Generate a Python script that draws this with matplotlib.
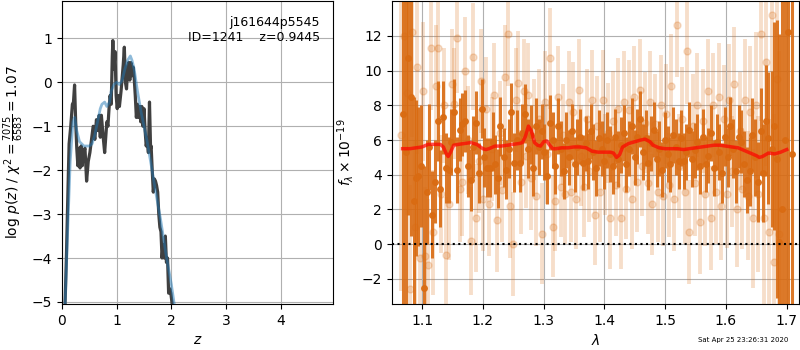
import numpy as np
import matplotlib
matplotlib.use('Agg')
import matplotlib.pyplot as plt

# p(z) 曲线
z_pz = [0.05, 0.08, 0.11, 0.13, 0.16, 0.19, 0.21, 0.23, 0.25, 0.27, 0.29, 0.31, 0.33, 0.35,
        0.37, 0.39, 0.42, 0.45, 0.48, 0.51, 0.54, 0.57, 0.60, 0.63, 0.66, 0.68, 0.70, 0.72,
        0.75, 0.78, 0.80, 0.82, 0.84, 0.86, 0.88, 0.90, 0.92, 0.93, 0.95, 0.97, 0.99, 1.01,
        1.03, 1.05, 1.08, 1.10, 1.12, 1.14, 1.16, 1.18, 1.20, 1.22, 1.24, 1.26, 1.28, 1.30,
        1.32, 1.34, 1.36, 1.38, 1.40, 1.42, 1.44, 1.46, 1.48, 1.50, 1.52, 1.54, 1.56, 1.58,
        1.60, 1.62, 1.63, 1.65, 1.67, 1.69, 1.71, 1.73, 1.75, 1.77, 1.79, 1.81, 1.83, 1.85,
        1.87, 1.89, 1.91, 1.93, 1.95, 1.97, 1.99, 2.01, 2.03, 2.06]
lnp = [-5.3, -4.0, -2.4, -1.4, -1.0, -0.5, -0.45, -0.06, -0.9, -1.5, -1.9, -1.5, -1.95, -1.45,
       -1.9, -1.6, -1.5, -2.25, -1.8, -1.6, -1.3, -1.0, -1.3, -0.85, -1.1, -0.75, -1.25, -0.75,
       -1.2, -1.6, -1.25, -0.9, -1.0, -0.6, -0.3, -0.5, 0.6, 0.95, 0.3, 0.7, -0.3, -0.6,
       -0.3, -0.55, -0.2, 0.1, 0.4, 0.8, 0.0, -0.15, 0.3, 0.45, 0.05, 0.45, 0.15, 0.35,
       0.1, -0.3, -0.8, -0.5, -0.8, -0.55, -0.9, -0.55, -1.0, -0.6, -1.1, -1.45, -1.3, -1.6,
       -0.45, -1.5, -1.45, -2.0, -2.5, -2.2, -2.25, -2.35, -2.5, -3.0, -3.3, -3.4, -4.0, -3.7,
       -4.0, -3.5, -4.1, -4.0, -4.8, -4.7, -4.8, -5.0, -5.3, -5.5]

z_sm = [0.05, 0.10, 0.15, 0.20, 0.23, 0.27, 0.32, 0.40, 0.50, 0.55, 0.60, 0.65, 0.70, 0.73,
        0.78, 0.82, 0.87, 0.90, 0.95, 1.00, 1.05, 1.10, 1.15, 1.20, 1.25, 1.28, 1.32, 1.38,
        1.45, 1.55, 1.62, 1.70, 1.80, 1.90, 2.00, 2.07]
lnp_sm = [-5.3, -3.5, -1.8, -0.9, -0.8, -1.1, -1.35, -1.45, -1.45, -1.4, -1.2, -0.9, -0.6, -0.5,
          -0.45, -0.55, -0.45, -0.2, -0.05, 0.0, -0.05, 0.05, 0.3, 0.5, 0.6, 0.5, 0.3, -0.2,
          -0.7, -1.3, -1.8, -2.4, -3.1, -3.9, -4.6, -5.2]

# 光谱 (深色)
lam_a = [1.068, 1.073, 1.077, 1.082, 1.086, 1.090, 1.094, 1.099, 1.104, 1.108, 1.112, 1.117,
         1.121, 1.126, 1.130, 1.135, 1.139, 1.144, 1.148, 1.153, 1.157, 1.162, 1.166, 1.171,
         1.175, 1.180, 1.184, 1.189, 1.193, 1.198, 1.202, 1.207, 1.211, 1.216, 1.220, 1.225,
         1.229, 1.234, 1.238, 1.243, 1.247, 1.252, 1.256, 1.261, 1.265, 1.270, 1.274, 1.279,
         1.283, 1.288, 1.292, 1.297, 1.301, 1.306, 1.310, 1.315, 1.319, 1.324, 1.328, 1.333,
         1.337, 1.342, 1.346, 1.351, 1.355, 1.360, 1.364, 1.369, 1.373, 1.378, 1.382, 1.387,
         1.391, 1.396, 1.400, 1.405, 1.409, 1.414, 1.418, 1.423, 1.427, 1.432, 1.436, 1.441,
         1.445, 1.450, 1.454, 1.459, 1.463, 1.468, 1.472, 1.477, 1.481, 1.486, 1.490, 1.495,
         1.499, 1.504, 1.508, 1.513, 1.517, 1.522, 1.526, 1.531, 1.535, 1.540, 1.544, 1.549,
         1.553, 1.558, 1.562, 1.567, 1.571, 1.576, 1.580, 1.585, 1.589, 1.594, 1.598, 1.603,
         1.607, 1.612, 1.616, 1.621, 1.625, 1.630, 1.634, 1.639, 1.643, 1.648, 1.652, 1.657,
         1.661, 1.666, 1.670, 1.675, 1.679, 1.684, 1.688, 1.693, 1.697, 1.702, 1.708]
flx_a = [7.5, 5.3, 10.7, 8.5, 2.5, 3.8, 3.9, 4.5, -2.5, 3.0, 5.6, 1.7,
         3.6, 7.1, 3.2, 7.3, 4.4, 4.3, 5.9, 7.6, 4.3, 6.6, 6.9, 7.1,
         4.5, 3.7, 5.6, 7.0, 4.1, 7.8, 5.0, 4.4, 4.4, 5.9, 4.6, 3.8,
         6.8, 5.0, 4.3, 5.5, 7.6, 4.7, 6.0, 4.7, 6.4, 7.5, 5.5, 6.3,
         4.4, 6.8, 5.6, 6.5, 5.3, 3.9, 7.0, 6.0, 4.5, 6.8, 5.5, 4.2,
         6.0, 5.0, 6.5, 4.6, 5.6, 6.2, 4.7, 5.8, 4.8, 6.5, 5.3, 4.4,
         6.1, 5.5, 4.8, 6.0, 5.2, 4.5, 6.2, 4.9, 5.7, 6.4, 4.6, 5.5,
         6.8, 5.0, 6.2, 7.2, 5.3, 6.1, 4.7, 5.8, 6.6, 4.9, 5.5, 4.3,
         6.0, 5.2, 4.6, 6.3, 5.6, 4.8, 6.1, 4.8, 5.3, 6.6, 4.9, 5.4,
         5.9, 4.5, 6.2, 4.6, 5.1, 6.4, 4.4, 5.9, 5.3, 4.1, 6.2, 5.0,
         6.8, 5.5, 4.2, 6.2, 5.9, 4.6, 3.7, 4.2, 6.3, 5.0, 3.6, 6.5,
         4.1, 7.1, 6.1, 5.5, 6.8, 4.9, 0.1, 2.0, 6.0, 12.2, 5.2]
err_a = [12, 9, 9, 8, 6, 4.5, 4, 3.5, 7, 3, 2.5, 2.5,
         2.4, 2.3, 2.2, 2.1, 2.0, 1.9, 1.9, 1.9, 1.9, 1.8, 1.8, 1.8,
         1.8, 1.8, 1.8, 1.8, 1.7, 1.7, 1.7, 1.7, 1.7, 1.7, 1.7, 1.7,
         1.7, 1.7, 1.7, 1.7, 1.7, 1.7, 1.7, 1.7, 1.7, 1.7, 1.7, 1.7,
         1.6, 1.6, 1.6, 1.6, 1.6, 1.6, 1.6, 1.6, 1.6, 1.6, 1.6, 1.6,
         1.6, 1.6, 1.6, 1.6, 1.6, 1.6, 1.6, 1.6, 1.6, 1.6, 1.6, 1.6,
         1.6, 1.6, 1.6, 1.6, 1.6, 1.6, 1.6, 1.6, 1.6, 1.6, 1.6, 1.6,
         1.6, 1.6, 1.6, 1.6, 1.6, 1.6, 1.6, 1.6, 1.6, 1.6, 1.6, 1.6,
         1.6, 1.6, 1.6, 1.6, 1.6, 1.6, 1.6, 1.6, 1.6, 1.6, 1.6, 1.6,
         1.6, 1.6, 1.6, 1.6, 1.6, 1.6, 1.6, 1.6, 1.6, 1.7, 1.7, 1.7,
         1.7, 1.7, 1.8, 1.8, 1.8, 1.9, 1.9, 2.0, 2.1, 2.2, 2.3, 2.5,
         2.8, 3.2, 3.8, 4.5, 6, 8, 12, 14, 15, 16, 10]

# 光谱 (浅色)
lam_b = [1.066, 1.071, 1.075, 1.080, 1.084, 1.088, 1.092, 1.097, 1.101, 1.105, 1.110, 1.114,
         1.118, 1.123, 1.127, 1.131, 1.136, 1.140, 1.144, 1.149, 1.153, 1.158, 1.162, 1.166,
         1.171, 1.175, 1.180, 1.184, 1.188, 1.193, 1.197, 1.201, 1.206, 1.210, 1.215, 1.219,
         1.223, 1.228, 1.232, 1.236, 1.241, 1.245, 1.249, 1.254, 1.258, 1.262, 1.267, 1.271,
         1.275, 1.280, 1.284, 1.288, 1.293, 1.297, 1.302, 1.306, 1.310, 1.315, 1.319, 1.323,
         1.328, 1.332, 1.336, 1.341, 1.345, 1.349, 1.354, 1.358, 1.362, 1.367, 1.371, 1.375,
         1.380, 1.384, 1.388, 1.393, 1.397, 1.401, 1.406, 1.410, 1.414, 1.419, 1.423, 1.427,
         1.432, 1.436, 1.440, 1.445, 1.449, 1.453, 1.458, 1.462, 1.466, 1.471, 1.475, 1.479,
         1.484, 1.488, 1.493, 1.497, 1.501, 1.506, 1.510, 1.514, 1.519, 1.523, 1.527, 1.532,
         1.536, 1.540, 1.545, 1.549, 1.553, 1.558, 1.562, 1.566, 1.571, 1.575, 1.579, 1.584,
         1.588, 1.592, 1.597, 1.601, 1.605, 1.610, 1.614, 1.618, 1.623, 1.627, 1.631, 1.636,
         1.640, 1.644, 1.649, 1.653, 1.657, 1.662, 1.666, 1.671, 1.675, 1.679, 1.684, 1.688]
flx_b = [6.3, 12.0, 8.7, -2.6, 12.2, 1.0, 10.2, -0.8, 8.8, -0.7, -1.2, 11.3,
         0.7, 9.1, 11.3, 2.9, 8.0, -0.6, 2.3, 9.2, 8.1, 11.9, 3.2, 3.6,
         10.0, 6.0, 0.2, 10.8, 1.5, 4.8, 9.4, 2.6, 7.8, 2.3, 5.5, 8.6,
         1.4, 6.4, 3.1, 9.6, 12.1, 2.2, 0.0, 8.3, 9.3, 3.6, 8.8, 5.1,
         8.6, 3.8, 6.6, 2.8, 7.2, 0.6, 8.2, 5.2, 10.7, 1.0, 2.5, 8.5,
         3.3, 6.3, 2.9, 8.2, 3.0, 7.6, 2.6, 8.9, 5.1, 3.3, 7.2, 4.2,
         8.3, 1.7, 6.8, 3.0, 8.3, 4.6, 6.4, 1.5, 7.1, 3.4, 7.8, 1.5,
         8.2, 3.2, 7.7, 2.6, 8.5, 3.6, 8.9, 4.5, 7.0, 3.5, 8.2, 2.3,
         6.9, 3.0, 8.0, 2.8, 7.5, 3.4, 9.1, 2.6, 12.6, 4.5, 7.2, 3.0,
         11.1, 0.7, 6.8, 3.5, 8.0, 1.3, 7.1, 2.9, 8.8, 1.5, 8.0, 3.0,
         8.5, 2.2, 7.2, 2.9, 8.3, 4.2, 9.2, 2.0, 6.5, 3.2, 8.3, 2.8,
         7.6, 1.5, 8.0, 2.9, 12.1, 1.5, 10.5, 0.7, 13.2, -1.0, 9.5, 0.6]
err_b = [9, 10, 7, 6, 6, 5, 5, 4.5, 4, 4, 3.8, 3.6,
         3.6, 3.5, 3.4, 3.4, 3.3, 3.3, 3.2, 3.2, 3.2, 3.2, 3.1, 3.1,
         3.1, 3.1, 3.1, 3.1, 3.1, 3.0, 3.0, 3.0, 3.0, 3.0, 3.0, 3.0,
         3.0, 3.0, 3.0, 3.0, 3.0, 3.0, 3.0, 3.0, 3.0, 3.0, 3.0, 3.0,
         3.0, 3.0, 2.9, 2.9, 2.9, 2.9, 2.9, 2.9, 2.9, 2.9, 2.9, 2.9,
         2.9, 2.9, 2.9, 2.9, 2.9, 2.9, 2.9, 2.9, 2.9, 2.9, 2.9, 2.9,
         2.9, 2.9, 2.9, 2.9, 2.9, 2.9, 2.9, 2.9, 2.9, 2.9, 2.9, 2.9,
         2.9, 2.9, 2.9, 2.9, 2.9, 2.9, 2.9, 2.9, 2.9, 2.9, 2.9, 2.9,
         2.9, 2.9, 2.9, 2.9, 2.9, 3.0, 3.0, 3.0, 3.0, 3.0, 3.0, 3.0,
         3.0, 3.0, 3.0, 3.0, 3.0, 3.0, 3.0, 3.0, 3.0, 3.0, 3.0, 3.0,
         3.1, 3.1, 3.1, 3.1, 3.2, 3.2, 3.3, 3.3, 3.4, 3.5, 3.5, 3.7,
         3.8, 4.0, 4.2, 4.5, 5, 5.5, 6, 6.5, 7.5, 8.5, 9.5, 10.5]

# 模型
lam_m = [1.068, 1.08, 1.09, 1.10, 1.11, 1.12, 1.13, 1.135, 1.14, 1.143, 1.147, 1.152, 1.16,
         1.17, 1.18, 1.19, 1.20, 1.205, 1.21, 1.22, 1.23, 1.24, 1.25, 1.26, 1.265, 1.27,
         1.275, 1.28, 1.285, 1.29, 1.295, 1.30, 1.305, 1.31, 1.315, 1.32, 1.33, 1.34, 1.35,
         1.36, 1.37, 1.38, 1.39, 1.40, 1.41, 1.415, 1.42, 1.425, 1.43, 1.44, 1.45, 1.46,
         1.467, 1.475, 1.48, 1.49, 1.50, 1.51, 1.52, 1.53, 1.54, 1.55, 1.56, 1.57, 1.58,
         1.59, 1.60, 1.61, 1.62, 1.63, 1.64, 1.65, 1.655, 1.66, 1.67, 1.68, 1.69, 1.70]
flx_m = [5.5, 5.5, 5.55, 5.6, 5.75, 5.75, 5.75, 5.6, 5.2, 5.05, 5.3, 5.7, 5.75,
         5.8, 5.85, 5.75, 5.5, 5.45, 5.5, 5.65, 5.65, 5.7, 5.75, 5.8, 5.85, 6.2,
         6.8, 6.5, 5.85, 5.7, 5.65, 5.9, 5.95, 5.7, 5.5, 5.5, 5.55, 5.55, 5.6,
         5.6, 5.55, 5.35, 5.3, 5.3, 5.3, 5.25, 5.0, 5.15, 5.6, 5.8, 5.9, 6.0,
         6.05, 5.9, 5.7, 5.55, 5.5, 5.5, 5.5, 5.45, 5.5, 5.55, 5.6, 5.65, 5.7,
         5.7, 5.65, 5.6, 5.55, 5.4, 5.25, 5.1, 5.0, 5.05, 5.25, 5.2, 5.3, 5.45]

col = (0.85, 0.42, 0.07)

fig = plt.figure(figsize=(8, 3.5), dpi=100)
ax1 = fig.add_axes([0.0775, 0.131, 0.339, 0.866])
ax2 = fig.add_axes([0.4896, 0.131, 0.509, 0.866])

ax1.plot(z_pz, lnp, color='0.25', lw=2.3, zorder=3)
ax1.plot(z_sm, lnp_sm, color='tab:blue', lw=2, alpha=0.5, zorder=4)
ax1.set_xlim(0, 4.96)
ax1.set_ylim(-5.05, 1.85)
ax1.set_xticks([0, 1, 2, 3, 4])
ax1.grid(True)
ax1.set_axisbelow(True)
ax1.set_xlabel('$z$')
ax1.set_ylabel(r'log $p(z)$ / $\chi^2=\frac{7075}{6583}=1.07$')
ax1.text(0.95, 0.95, 'j161644p5545\nID=1241    z=0.9445', transform=ax1.transAxes,
         ha='right', va='top', fontsize=9)

ax2.errorbar(lam_b, flx_b, err_b, color=col, alpha=0.22, marker='o', ms=5,
             linestyle='None', elinewidth=2.8, zorder=1)
ax2.errorbar(lam_a, flx_a, err_a, color=col, alpha=0.9, marker='o', ms=4,
             linestyle='None', elinewidth=2.2, zorder=2)
ax2.plot(lam_m, flx_m, color='r', alpha=0.7, lw=2.5, zorder=5)
ax2.axhline(0, color='k', ls=':', lw=1.5, zorder=6)
ax2.set_xlim(1.05, 1.72)
ax2.set_ylim(-3.45, 14.0)
ax2.set_yticks([-2, 0, 2, 4, 6, 8, 10, 12])
ax2.grid(True)
ax2.set_axisbelow(True)
ax2.set_xlabel(r'$\lambda$')
ax2.set_ylabel(r'$f_\lambda \times 10^{-19}$')

fig.text(0.985, 0.02, 'Sat Apr 25 23:26:31 2020', ha='right', va='bottom', fontsize=5)

fig.savefig('out.png', dpi=100)
